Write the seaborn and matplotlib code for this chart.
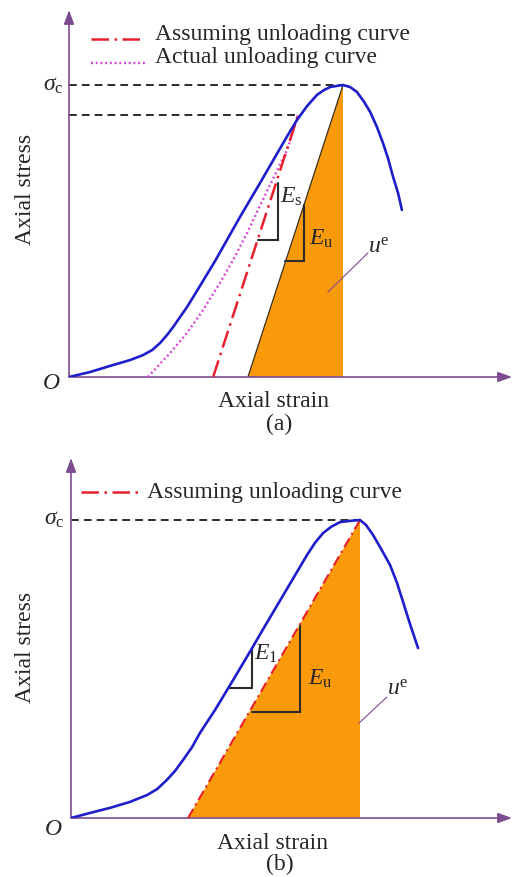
import numpy as np
import pandas as pd
import seaborn as sns
import matplotlib.pyplot as plt

sns.set_theme(style="white")
plt.rcParams["font.family"] = ["Liberation Serif", "DejaVu Serif"]
plt.rcParams["mathtext.fontset"] = "custom"
plt.rcParams["mathtext.rm"] = "Liberation Serif"
plt.rcParams["mathtext.it"] = "Liberation Serif:italic"
plt.rcParams["mathtext.bf"] = "Liberation Serif:bold"

# ---------------- panel (a): strain / stress normalised by the peak ----------------
strain_a = [0.0, 0.077, 0.150, 0.223, 0.270, 0.303, 0.332, 0.358, 0.380, 0.405,
            0.431, 0.460, 0.489, 0.533, 0.624, 0.697, 0.763, 0.799, 0.832, 0.869,
            0.905, 0.931, 0.953, 0.978, 1.0, 1.026, 1.051, 1.077, 1.099, 1.124,
            1.146, 1.164, 1.182, 1.201, 1.215]
stress_a = [0.0, 0.017, 0.038, 0.058, 0.075, 0.092, 0.116, 0.144, 0.171, 0.205,
            0.240, 0.284, 0.329, 0.397, 0.548, 0.664, 0.771, 0.829, 0.880, 0.928,
            0.966, 0.983, 0.993, 0.997, 1.0, 0.993, 0.976, 0.942, 0.908, 0.856,
            0.801, 0.750, 0.688, 0.630, 0.572]
actual_strain_a = [0.288, 0.332, 0.369, 0.431, 0.489, 0.551, 0.599, 0.650, 0.693,
                   0.737, 0.796, 0.836]
actual_stress_a = [0.0, 0.045, 0.082, 0.151, 0.229, 0.322, 0.401, 0.493, 0.579,
                   0.664, 0.777, 0.897]
assumed_strain_a = [0.526, 0.836]
assumed_stress_a = [0.0, 0.897]
elastic_strain_a = [0.653, 1.0]
elastic_stress_a = [0.0, 1.0]
unload_level_a = 0.897
es_tri_a = dict(x0=0.690, x1=0.763, y0=0.469, y1=0.664)
eu_tri_a = dict(x0=0.788, x1=0.858, y0=0.397, y1=0.589)

# ---------------- panel (b) ----------------
strain_b = [0.0, 0.066, 0.135, 0.204, 0.263, 0.298, 0.332, 0.360, 0.388, 0.419,
            0.446, 0.498, 0.561, 0.623, 0.671, 0.751, 0.792, 0.817, 0.844, 0.872,
            0.900, 0.931, 0.965, 1.0, 1.021, 1.045, 1.073, 1.104, 1.128, 1.149,
            1.173, 1.201]
stress_b = [0.0, 0.017, 0.034, 0.054, 0.077, 0.097, 0.128, 0.158, 0.195, 0.238,
            0.285, 0.362, 0.463, 0.564, 0.644, 0.775, 0.842, 0.883, 0.923, 0.956,
            0.977, 0.993, 0.997, 1.0, 0.983, 0.950, 0.903, 0.849, 0.789, 0.725,
            0.651, 0.570]
assumed_strain_b = [0.405, 1.0]
assumed_stress_b = [0.0, 1.0]
e1_tri_b = dict(x0=0.547, x1=0.626, y0=0.436, y1=0.567)
eu_tri_b = dict(x0=0.628, x1=0.791, y0=0.356, y1=0.644)

W, H = 513, 877
BLUE = "#1E1ECB"
RED = "#E8202E"
PINK = "#D93FD9"
ORANGE = "#FA9A0A"
PURPLE = "#7D4B90"
DARK = "#2b2b2b"
FS = 17

fig = plt.figure(figsize=(W / 100, H / 100), dpi=100)


def make_axes(left, right, bottom, top, x_unit, y_unit):
    ax = fig.add_axes([left / W, 1 - bottom / H, (right - left) / W, (bottom - top) / H])
    ax.set_xlim(0, (right - left) / x_unit)
    ax.set_ylim(0, (bottom - top) / y_unit)
    for s in ax.spines.values():
        s.set_visible(False)
    ax.set_xticks([])
    ax.set_yticks([])
    ax.patch.set_alpha(0)
    arrow = dict(arrowstyle="-|>,head_length=0.6,head_width=0.22", color=PURPLE,
                 lw=1.2, mutation_scale=14, shrinkA=0, shrinkB=0)
    ax.annotate("", xy=(1, 0), xytext=(0, 0), xycoords="axes fraction",
                textcoords="axes fraction", arrowprops=arrow, annotation_clip=False)
    ax.annotate("", xy=(0, 1), xytext=(0, 0), xycoords="axes fraction",
                textcoords="axes fraction", arrowprops=arrow, annotation_clip=False)
    return ax


def slope_triangle(ax, t):
    ax.plot([t["x0"], t["x1"], t["x1"]], [t["y0"], t["y0"], t["y1"]],
            color=DARK, lw=1.5, solid_joinstyle="miter", zorder=4)


def legend_row(ax, x0, x1, y, ty, tx, text, **style):
    ax.plot([x0, x1], [y, y], transform=ax.transAxes, clip_on=False, **style)
    ax.text(tx, ty, text, transform=ax.transAxes, fontsize=FS, va="baseline", ha="left")


def axis_texts(ax, xl, yl, tag):
    ax.set_xlabel("")
    ax.set_ylabel("")
    ax.text(xl[0], xl[1], "Axial strain", transform=ax.transAxes, fontsize=FS,
            ha="center", va="baseline")
    ax.text(yl[0], yl[1], "Axial stress", transform=ax.transAxes, fontsize=FS,
            ha="center", va="center", rotation=90)
    ax.text(tag[0], tag[1], tag[2], transform=ax.transAxes, fontsize=FS,
            ha="center", va="baseline")


dashdot_a = (0, (7, 2.2, 1, 2.2))
dotted = (0, (0.8, 1.2))
black_dash = (0, (4, 2.6))

# ============================== (a) ==============================
ax = make_axes(69, 512, 377, 10, 274, 292)

ax.fill(elastic_strain_a + [elastic_strain_a[-1]], elastic_stress_a + [0.0],
        color=ORANGE, lw=0, zorder=1)
ax.plot(elastic_strain_a, elastic_stress_a, color="#3a3020", lw=0.9, zorder=2)

ax.plot([0, strain_a[int(np.argmax(stress_a))]], [1.0, 1.0], color=DARK, lw=1.4,
        linestyle=black_dash, zorder=2)
ax.plot([0, assumed_strain_a[-1]], [unload_level_a, unload_level_a], color=DARK, lw=1.4,
        linestyle=black_dash, zorder=2)

sns.lineplot(x=actual_strain_a, y=actual_stress_a, ax=ax, color=PINK, lw=1.7,
             linestyle=dotted, dash_capstyle="butt", sort=False,
             estimator=None, zorder=3)
sns.lineplot(x=assumed_strain_a, y=assumed_stress_a, ax=ax, color=RED, lw=1.8,
             linestyle=dashdot_a, sort=False, estimator=None, zorder=3)
sns.lineplot(x=strain_a, y=stress_a, ax=ax, color=BLUE, lw=1.9, sort=False,
             estimator=None, zorder=5)

slope_triangle(ax, es_tri_a)
slope_triangle(ax, eu_tri_a)
ax.text(0.770, 0.597, r"$E_{\rm s}$", fontsize=FS, ha="left", va="baseline", zorder=6)
ax.text(0.876, 0.452, r"$E_{\rm u}$", fontsize=FS, ha="left", va="baseline", zorder=6)
ax.text(1.091, 0.425, r"$u^{\rm e}$", fontsize=FS, ha="left", va="baseline", zorder=6)
ax.plot([1.091, 0.945], [0.425, 0.291], color=PURPLE, lw=0.8, zorder=6)

ax.text(-0.020, 1.0, r"$\sigma_{\rm c}$", fontsize=FS, ha="right", va="center")
ax.text(-0.030, -0.022, r"$O$", fontsize=FS, ha="right", va="center")

legend_row(ax, 0.0497, 0.1716, 0.921, 0.918, 0.194, "Assuming unloading curve",
           color=RED, lw=1.8, linestyle=dashdot_a)
legend_row(ax, 0.0497, 0.1716, 0.856, 0.856, 0.194, "Actual unloading curve",
           color=PINK, lw=1.7, linestyle=dotted, dash_capstyle="butt")

axis_texts(ax, (0.4605, -0.0817), (-0.0993, 0.512), (0.474, -0.1444, "(a)"))

# ============================== (b) ==============================
bx = make_axes(71, 512, 818, 458, 289, 298)

bx.fill(assumed_strain_b + [assumed_strain_b[-1]], assumed_stress_b + [0.0],
        color=ORANGE, lw=0, zorder=1)
bx.plot([0, strain_b[int(np.argmax(stress_b))]], [1.0, 1.0], color=DARK, lw=1.4,
        linestyle=black_dash, zorder=2)
sns.lineplot(x=assumed_strain_b, y=assumed_stress_b, ax=bx, color=RED, lw=1.5,
             linestyle=(0, (5, 2, 1, 2)), sort=False, estimator=None, zorder=3)
sns.lineplot(x=strain_b, y=stress_b, ax=bx, color=BLUE, lw=1.9, sort=False,
             estimator=None, zorder=5)

slope_triangle(bx, e1_tri_b)
slope_triangle(bx, eu_tri_b)
bx.text(0.633, 0.530, r"$E_{\rm 1}$", fontsize=FS, ha="left", va="baseline", zorder=6)
bx.text(0.820, 0.446, r"$E_{\rm u}$", fontsize=FS, ha="left", va="baseline", zorder=6)
bx.text(1.093, 0.413, r"$u^{\rm e}$", fontsize=FS, ha="left", va="baseline", zorder=6)
bx.plot([1.093, 0.997], [0.406, 0.319], color=PURPLE, lw=0.8, zorder=6)

bx.text(-0.022, 1.0, r"$\sigma_{\rm c}$", fontsize=FS, ha="right", va="center")
bx.text(-0.030, -0.040, r"$O$", fontsize=FS, ha="right", va="center")

legend_row(bx, 0.0227, 0.152, 0.906, 0.889, 0.172, "Assuming unloading curve",
           color=RED, lw=1.8, linestyle=dashdot_a)

axis_texts(bx, (0.458, -0.0861), (-0.103, 0.475), (0.474, -0.144, "(b)"))

fig.savefig("out.png", dpi=100)
